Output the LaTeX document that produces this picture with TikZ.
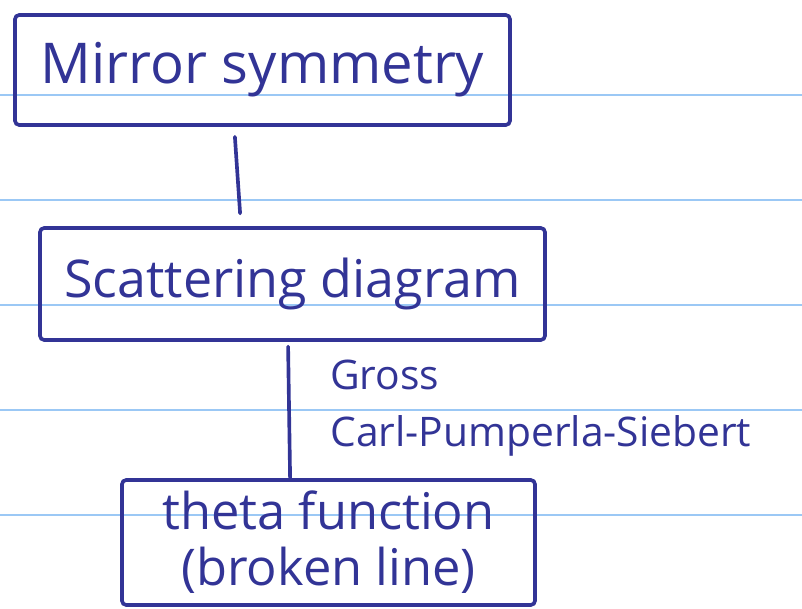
\documentclass[tikz,border=0pt]{standalone}
\usepackage{fontspec}
\setmainfont{Open Sans}
\definecolor{ink}{RGB}{50,52,150}
\definecolor{rule}{RGB}{155,200,245}
\begin{document}
\begin{tikzpicture}[
        box/.style={draw=ink, line width=2.6pt, rounded corners=3pt, text=ink,
                    align=center, inner sep=0pt},
        link/.style={draw=ink, line width=2.6pt, line cap=round},
        note/.style={text=ink, align=left, anchor=north west, inner sep=0pt,
                     font=\fontsize{29}{40}\selectfont}
      ]
      \useasboundingbox (0,0) rectangle (20.05,-15.225);

      % ruled paper
      \foreach \y in {2.375,5,7.625,10.25,12.875}
        \draw[rule, line width=0.8pt] (0,-\y) -- (20.05,-\y);

      \node[box, minimum width=12.375cm, minimum height=2.75cm,
            font=\fontsize{40}{46}\selectfont] (mirror) at (6.5625,-1.75) {Mirror symmetry};
      \node[box, minimum width=12.625cm, minimum height=2.8cm,
            font=\fontsize{37}{42}\selectfont] (scatter) at (7.3125,-7.1) {Scattering diagram};
      \node[box, minimum width=10.325cm, minimum height=3.125cm,
            font=\fontsize{36}{40}\selectfont] (theta) at (8.2125,-13.5625) {theta function\\(broken line)};

      % connectors
      \draw[link] ([xshift=-0.69cm, yshift=-0.25cm]mirror.south)
        -- ([xshift=-1.31cm, yshift=0.32cm]scatter.north);
      \draw[link] ([xshift=-0.11cm, yshift=-0.12cm]scatter.south)
        -- ([xshift=-0.96cm]theta.north);

      \node[note] (refs) at (8.25,-9.0) {Gross\\Carl-Pumperla-Siebert};

    \end{tikzpicture}
\end{document}
